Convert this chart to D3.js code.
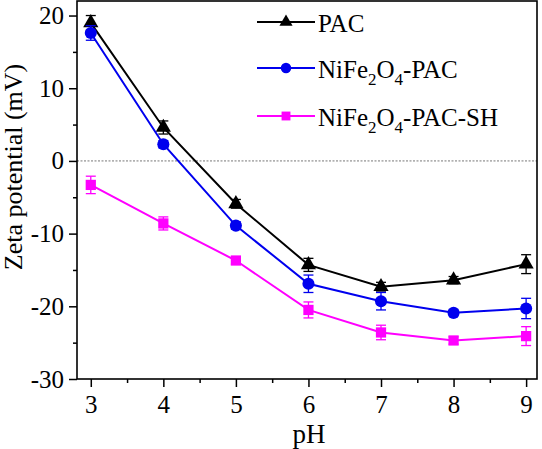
<!DOCTYPE html>
<html><head><meta charset="utf-8">
<script src="https://cdn.jsdelivr.net/npm/d3@7"></script>
</head><body style="margin:0;background:#fff"><svg id="c" width="542" height="449" style="display:block"></svg>
<script>
const pH = [3,4,5,6,7,8,9];
const pacVals = [19.0,4.6,-5.9,-14.3,-17.3,-16.4,-14.2];
const pacErr = [1.0,0.9,0.6,0.9,0.6,0.5,1.3];
const nfVals = [17.6,2.3,-8.9,-16.9,-19.3,-20.9,-20.3];
const nfErr = [1.0,0.5,0.5,1.2,1.2,0.4,1.4];
const shVals = [-3.3,-8.6,-13.7,-20.5,-23.6,-24.7,-24.1];
const shErr = [1.2,0.9,0.5,1.1,1.0,0.5,1.3];
const xTicks = [3,4,5,6,7,8,9];
const yTicks = [-30,-20,-10,0,10,20];

const FONT = '"Liberation Serif"';
const series = [
  {name:"PAC", vals:pacVals, err:pacErr, color:"#000000", sym:d3.symbolTriangle, size:100},
  {name:"NiFe2O4-PAC", vals:nfVals, err:nfErr, color:"#0000ee", sym:d3.symbolCircle, size:115},
  {name:"NiFe2O4-PAC-SH", vals:shVals, err:shErr, color:"#ff00ff", sym:d3.symbolSquare, size:105}
];

const svg = d3.select("#c");
const L=77, R=537, T=1, B=379;
const x = d3.scaleLinear().domain([2.81,9.15]).range([L,R]);
const y = d3.scaleLinear().domain([-30,22]).range([B,T]);

function serif(sel, size){ return sel.attr("font-family","Liberation Serif").style("font-family",FONT).style("font-size",size+"px").attr("fill","#000"); }

// zero line
svg.append("line").attr("x1",L).attr("x2",R).attr("y1",y(0)).attr("y2",y(0))
  .attr("stroke","#555").attr("stroke-width",0.8).attr("stroke-dasharray","2,1.5");

// axes
const xa = svg.append("g").attr("transform",`translate(0,${B})`)
  .call(d3.axisBottom(x).tickValues(xTicks).tickFormat(d=>String(d)).tickSize(8).tickPadding(8));
const ya = svg.append("g").attr("transform",`translate(${L},0)`)
  .call(d3.axisLeft(y).tickValues(yTicks).tickFormat(d=>String(d)).tickSize(8).tickPadding(5));
svg.append("g").attr("transform",`translate(0,${B})`)
  .call(d3.axisBottom(x).tickValues([3.5,4.5,5.5,6.5,7.5,8.5]).tickSize(4).tickFormat(""));
svg.append("g").attr("transform",`translate(${L},0)`)
  .call(d3.axisLeft(y).tickValues([-25,-15,-5,5,15]).tickSize(4).tickFormat(""));
[xa,ya].forEach(a=>{ serif(a,25); serif(a.selectAll("text"),25); });
svg.selectAll(".tick line").attr("stroke-width",1.5);
svg.selectAll(".domain").remove();

// frame
svg.append("rect").attr("x",L).attr("y",T).attr("width",R-L).attr("height",B-T)
  .attr("fill","none").attr("stroke","#000").attr("stroke-width",1.6);

// series
const line = d3.line().x((d,i)=>x(pH[i])).y(d=>y(d));
series.forEach(s=>{
  const g = svg.append("g");
  g.append("path").datum(s.vals).attr("d",line).attr("fill","none").attr("stroke",s.color).attr("stroke-width",2);
  s.vals.forEach((v,i)=>{
    const cx=x(pH[i]), y1=y(v+s.err[i]), y2=y(v-s.err[i]);
    g.append("line").attr("x1",cx).attr("x2",cx).attr("y1",y1).attr("y2",y2).attr("stroke",s.color).attr("stroke-width",1.3);
    g.append("line").attr("x1",cx-5).attr("x2",cx+5).attr("y1",y1).attr("y2",y1).attr("stroke",s.color).attr("stroke-width",1.3);
    g.append("line").attr("x1",cx-5).attr("x2",cx+5).attr("y1",y2).attr("y2",y2).attr("stroke",s.color).attr("stroke-width",1.3);
    g.append("path").attr("d",d3.symbol().type(s.sym).size(s.size)())
      .attr("transform",`translate(${cx},${y(v)})`).attr("fill",s.color);
  });
});

// legend
const legY=[22,68,116];
series.forEach((s,i)=>{
  const ly=legY[i];
  svg.append("line").attr("x1",257).attr("x2",315).attr("y1",ly).attr("y2",ly).attr("stroke",s.color).attr("stroke-width",2);
  svg.append("path").attr("d",d3.symbol().type(s.sym).size(s.size*0.75)()).attr("transform",`translate(286,${ly})`).attr("fill",s.color);
  const t = serif(svg.append("text").attr("x",318).attr("y",ly+9.5),25);
  if(s.name==="PAC"){ t.text("PAC"); }
  else {
    t.append("tspan").text("NiFe");
    t.append("tspan").text("2").attr("dy",7).style("font-size","17px");
    t.append("tspan").text("O").attr("dy",-7);
    t.append("tspan").text("4").attr("dy",7).style("font-size","17px");
    t.append("tspan").text(s.name==="NiFe2O4-PAC"?"-PAC":"-PAC-SH").attr("dy",-7);
  }
});

// axis titles
serif(svg.append("text").attr("x",309).attr("y",443).attr("text-anchor","middle"),27).text("pH");
serif(svg.append("text").attr("transform",`translate(22,167) rotate(-90)`).attr("text-anchor","middle"),26).text("Zeta potential (mV)");
</script></body></html>
